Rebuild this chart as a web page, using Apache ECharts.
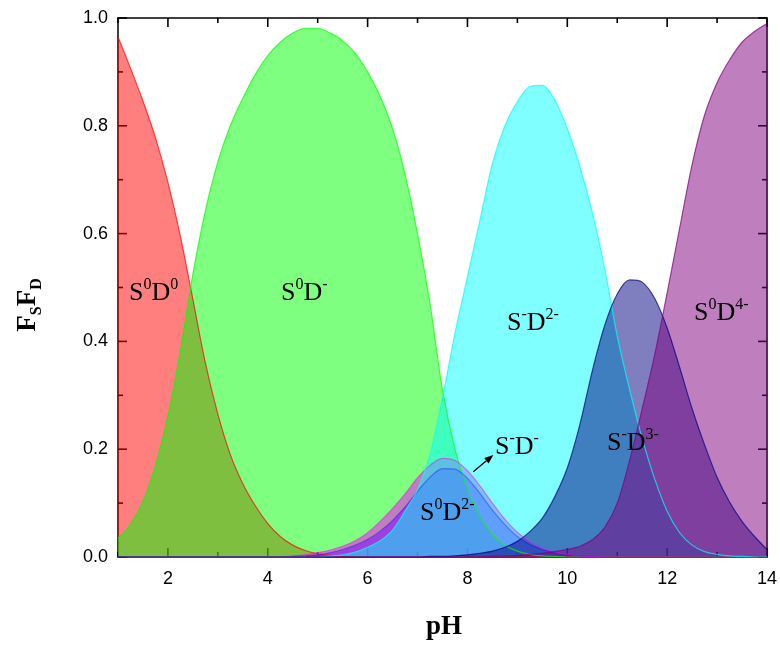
<!DOCTYPE html>
<html>
<head>
<meta charset="utf-8">
<script src="https://cdn.jsdelivr.net/npm/echarts@6/dist/echarts.min.js"></script>
<style>html,body{margin:0;padding:0;background:#fff}#c{width:780px;height:645px}</style>
</head>
<body>
<div id="c"></div>
<script>
var pH = [1.00,1.25,1.50,1.75,2.00,2.25,2.50,2.75,3.00,3.25,3.50,3.75,4.00,4.25,4.50,4.75,5.00,5.25,5.50,5.75,6.00,6.25,6.50,6.75,7.00,7.25,7.50,7.75,8.00,8.25,8.50,8.75,9.00,9.25,9.50,9.75,10.00,10.25,10.50,10.75,11.00,11.25,11.50,11.75,12.00,12.25,12.50,12.75,13.00,13.25,13.50,13.75,14.00];

var S0D0 = [0.965,0.907,0.846,0.778,0.695,0.595,0.478,0.36,0.265,0.19,0.136,0.095,0.062,0.038,0.022,0.012,0.006,0.003,0.001,0,0,0,0,0,0,0,0,0,0,0,0,0,0,0,0,0,0,0,0,0,0,0,0,0,0,0,0,0,0,0,0,0,0];
var S0Dm = [0.035,0.06,0.103,0.17,0.262,0.383,0.525,0.642,0.733,0.80,0.851,0.895,0.93,0.955,0.972,0.981,0.981,0.972,0.958,0.935,0.90,0.855,0.795,0.71,0.60,0.47,0.31,0.20,0.125,0.075,0.042,0.022,0.011,0.005,0.002,0.001,0,0,0,0,0,0,0,0,0,0,0,0,0,0,0,0,0];
var S0D2m = [0,0,0,0,0,0,0,0,0,0,0,0,0,0,0.001,0.002,0.004,0.008,0.014,0.022,0.033,0.048,0.068,0.093,0.122,0.148,0.164,0.163,0.146,0.118,0.087,0.06,0.038,0.023,0.014,0.008,0.004,0.002,0.001,0,0,0,0,0,0,0,0,0,0,0,0,0,0];
var SmDm = [0,0,0,0,0,0,0,0,0,0,0,0,0,0,0.002,0.004,0.008,0.013,0.02,0.03,0.045,0.066,0.09,0.117,0.147,0.17,0.183,0.179,0.16,0.132,0.10,0.07,0.046,0.028,0.016,0.009,0.005,0.002,0.001,0,0,0,0,0,0,0,0,0,0,0,0,0,0];
var SmD2m = [0,0,0,0,0,0,0,0,0,0,0,0,0,0,0,0,0,0.002,0.004,0.009,0.018,0.03,0.05,0.085,0.125,0.19,0.295,0.415,0.52,0.625,0.73,0.80,0.845,0.873,0.875,0.848,0.795,0.725,0.64,0.535,0.41,0.31,0.22,0.145,0.085,0.045,0.022,0.01,0.005,0.002,0.001,0,0];
var SmD3m = [0,0,0,0,0,0,0,0,0,0,0,0,0,0,0,0,0,0,0,0,0,0,0,0,0,0.001,0.001,0.002,0.004,0.007,0.011,0.018,0.029,0.047,0.072,0.112,0.165,0.245,0.345,0.43,0.488,0.514,0.510,0.48,0.425,0.352,0.275,0.208,0.148,0.102,0.066,0.038,0.014];
var S0D4m = [0,0,0,0,0,0,0,0,0,0,0,0,0,0,0,0,0,0,0,0,0,0,0,0,0,0,0,0,0,0,0.001,0.002,0.003,0.005,0.007,0.01,0.014,0.02,0.032,0.055,0.10,0.18,0.275,0.375,0.49,0.61,0.728,0.82,0.88,0.922,0.955,0.975,0.99];

var xMajor = [2,4,6,8,10,12,14];
var xMinor = [1,3,5,7,9,11,13];
var yMajor = [0,0.2,0.4,0.6,0.8,1.0];
var yMinor = [0.1,0.3,0.5,0.7,0.9];

var seriesDefs = [
  {name:'S0D0', data:S0D0, color:'#FF0000', lo:0.7},
  {name:'S0D-', data:S0Dm, color:'#00FF00', lo:0.7},
  {name:'S0D2-', data:S0D2m, color:'#0000FF', lo:0.35},
  {name:'S-D-', data:SmDm, color:'#FF00FF', lo:0.5},
  {name:'S-D2-', data:SmD2m, color:'#00FFFF', lo:0.7},
  {name:'S-D3-', data:SmD3m, color:'#000080', lo:0.7},
  {name:'S0D4-', data:S0D4m, color:'#800080', lo:0.7}
];

function pairs(arr){ return pH.map(function(x,i){ return [x, arr[i]]; }); }

var series = seriesDefs.map(function(s){
  return {
    type:'line', name:s.name, data:pairs(s.data), smooth:0.3, showSymbol:false, z:2,
    lineStyle:{color:s.color, width:1.2, opacity:s.lo},
    areaStyle:{color:s.color, opacity:0.5},
    itemStyle:{color:s.color}
  };
});

var lblFont = {fontFamily:'Liberation Sans, Arial, sans-serif', fontSize:18, color:'#000'};
var axisLine = {show:true, onZero:false, lineStyle:{color:'#000', width:1.5}};

var serif = 'Liberation Serif, Times New Roman, serif';
var rich = {
  m:{fontFamily:serif, fontSize:26, lineHeight:32, verticalAlign:'middle', color:'#000'},
  s:{fontFamily:serif, fontSize:16, lineHeight:32, verticalAlign:'top', color:'#000'}
};
function lab(x, y, txt){
  return {type:'text', x:x, y:y, z:100, style:{text:txt, rich:rich, align:'left', verticalAlign:'middle'}};
}

var labels = [
  lab(129, 293, '{m|S}{s|0}{m|D}{s|0}'),
  lab(281, 293, '{m|S}{s|0}{m|D}{s|-}'),
  lab(507, 323, '{m|S}{s|-}{m|D}{s|2-}'),
  lab(495, 447, '{m|S}{s|-}{m|D}{s|-}'),
  lab(420, 513, '{m|S}{s|0}{m|D}{s|2-}'),
  lab(607, 443, '{m|S}{s|-}{m|D}{s|3-}'),
  lab(694, 313, '{m|S}{s|0}{m|D}{s|4-}'),
  {type:'line', z:100, shape:{x1:473.3, y1:471.7, x2:486.4, y2:460.8}, style:{stroke:'#000', lineWidth:1.3}},
  {type:'polygon', z:100, shape:{points:[[493.3,455],[488.6,463.5],[484.2,458.1]]}, style:{fill:'#000'}},
  {type:'text', x:444, y:627, z:100, style:{text:'pH', fontFamily:serif, fontWeight:'bold', fontSize:27, align:'center', verticalAlign:'middle', fill:'#000'}},
  {type:'text', x:28, y:305, z:100, rotation:Math.PI/2,
    style:{text:'{a|F}{b|S}{a|F}{b|D}', align:'center', verticalAlign:'middle',
      rich:{a:{fontFamily:serif, fontWeight:'bold', fontSize:27, lineHeight:34, verticalAlign:'middle', color:'#000'},
            b:{fontFamily:serif, fontWeight:'bold', fontSize:16, lineHeight:34, verticalAlign:'bottom', color:'#000'}}}}
];

var chart = echarts.init(document.getElementById('c'), null, {renderer:'canvas'});
chart.setOption({
  animation:false,
  backgroundColor:'#fff',
  grid:{left:118, right:13, top:18, bottom:88, containLabel:false},
  xAxis:[
    {type:'value', position:'bottom', min:1, max:14, axisLine:axisLine, axisTick:{show:false},
     axisLabel:Object.assign({show:true, margin:13, customValues:xMajor}, lblFont), splitLine:{show:false}},
    {type:'value', position:'top', min:1, max:14, axisLine:axisLine, axisTick:{show:false},
     axisLabel:{show:false}, splitLine:{show:false}}
  ],
  yAxis:[
    {type:'value', position:'left', min:0, max:1, interval:0.2, axisLine:axisLine, axisTick:{show:false},
     axisLabel:Object.assign({show:true, margin:10, formatter:function(v){return v.toFixed(1);}}, lblFont), splitLine:{show:false}},
    {type:'value', position:'right', min:0, max:1, interval:0.2, axisLine:axisLine, axisTick:{show:false},
     axisLabel:{show:false}, splitLine:{show:false}}
  ],
  series: series
});

// tick marks placed through the axes' own scales
var ticks = [];
var yB = chart.convertToPixel({yAxisIndex:0}, 0), yT = chart.convertToPixel({yAxisIndex:0}, 1);
var xL = chart.convertToPixel({xAxisIndex:0}, 1), xR = chart.convertToPixel({xAxisIndex:0}, 14);
function tk(x1,y1,x2,y2){ ticks.push({type:'line', z:1, shape:{x1:x1,y1:y1,x2:x2,y2:y2}, style:{stroke:'#000', lineWidth:1.6}}); }
xMajor.forEach(function(v){ var p = chart.convertToPixel({xAxisIndex:0}, v); tk(p,yB,p,yB-9); tk(p,yT,p,yT+9); });
xMinor.forEach(function(v){ var p = chart.convertToPixel({xAxisIndex:0}, v); tk(p,yB,p,yB-5); tk(p,yT,p,yT+5); });
yMajor.forEach(function(v){ var p = chart.convertToPixel({yAxisIndex:0}, v); tk(xL,p,xL+9,p); tk(xR,p,xR-9,p); });
yMinor.forEach(function(v){ var p = chart.convertToPixel({yAxisIndex:0}, v); tk(xL,p,xL+5,p); tk(xR,p,xR-5,p); });

chart.setOption({graphic: ticks.concat(labels)});
</script>
</body>
</html>
